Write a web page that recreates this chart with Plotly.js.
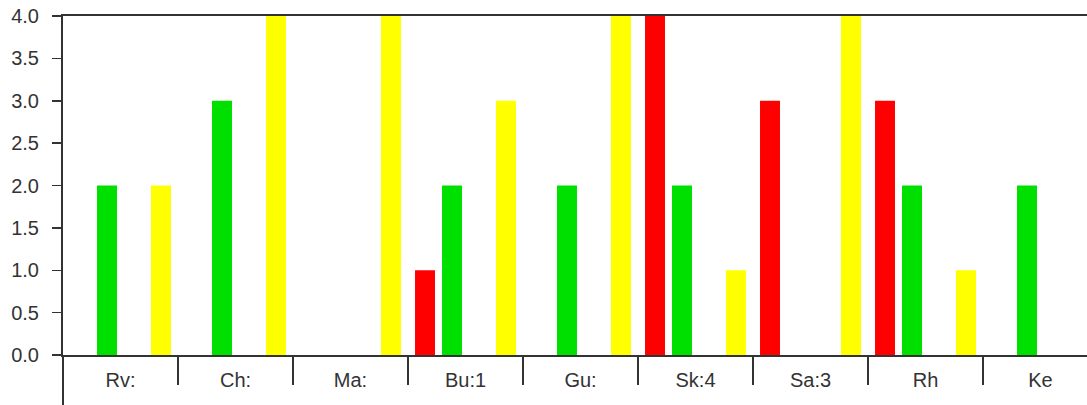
<!DOCTYPE html>
<html>
<head>
<meta charset="utf-8">
<script src="https://cdn.plot.ly/plotly-3.0.1.min.js"></script>
<style>html,body{margin:0;padding:0;background:#fff;}#chart{width:1087px;height:405px;}</style>
</head>
<body>
<div id="chart"></div>
<script>
const categories = ['Rv:', 'Ch:', 'Ma:', 'Bu:1', 'Gu:', 'Sk:4', 'Sa:3', 'Rh', 'Ke'];
const redValues    = [0, 0, 0, 1, 0, 4, 3, 3, 0];
const greenValues  = [2, 3, 0, 2, 2, 2, 0, 2, 2];
const emptyValues  = [0, 0, 0, 0, 0, 0, 0, 0, 0];
const yellowValues = [2, 4, 4, 3, 4, 1, 4, 1, 0];
const yTickVals = [0, 0.5, 1, 1.5, 2, 2.5, 3, 3.5, 4];

const mk = (y, color, name) => ({
  type: 'bar', x: categories, y: y, name: name,
  marker: {color: color, line: {width: 0}}, hoverinfo: 'x+y'
});

const data = [
  mk(redValues, '#ff0000', 'Red'),
  mk(greenValues, '#00e000', 'Green'),
  mk(emptyValues, '#0000ff', 'Blue'),
  mk(yellowValues, '#ffff00', 'Yellow')
];

const W = 1087, L = 63, PLOT_W = W - L, CAT_W = 115;
const axFont = {family: 'Liberation Sans, Arial, sans-serif', size: 20, color: '#333'};

const layout = {
  width: 1087, height: 405,
  margin: {l: L, r: 0, t: 16, b: 50, pad: 0},
  paper_bgcolor: '#fff', plot_bgcolor: '#fff',
  showlegend: false,
  barmode: 'group', bargap: 0.061, bargroupgap: 0.26,
  xaxis: {
    type: 'category',
    range: [-0.5, -0.5 + PLOT_W / CAT_W],
    showline: true, linecolor: '#333', linewidth: 2, mirror: true,
    layer: 'below traces',
    showgrid: false, zeroline: false,
    ticks: 'outside', tickson: 'boundaries', ticklen: 28, tickwidth: 1.5, tickcolor: '#333',
    ticklabelstandoff: 6,
    tickfont: axFont, fixedrange: true
  },
  yaxis: {
    range: [0, 4],
    tickvals: yTickVals, tickformat: '.1f',
    showline: true, linecolor: '#333', linewidth: 2,
    showgrid: false, zeroline: false,
    ticks: 'outside', ticklen: 9, tickwidth: 1.5, tickcolor: '#333',
    ticklabelstandoff: 9,
    tickfont: axFont, fixedrange: true
  },
  yaxis2: {
    overlaying: 'y', side: 'left', range: [0, 4],
    tickvals: yTickVals, showticklabels: false,
    showline: false, showgrid: false, zeroline: false,
    ticks: 'inside', ticklen: 6, tickwidth: 1.5, tickcolor: '#333', fixedrange: true
  },
  shapes: [
    {type: 'line', xref: 'paper', yref: 'paper', x0: 0, x1: 0, y0: 0, y1: -50 / 339,
     line: {color: '#333', width: 2}}
  ]
};

Plotly.newPlot('chart', data, layout, {displayModeBar: false, staticPlot: true});
</script>
</body>
</html>
